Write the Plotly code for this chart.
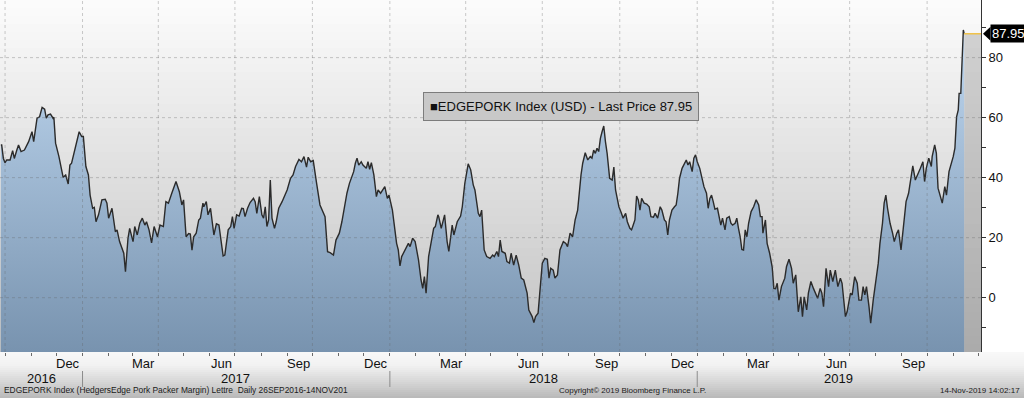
import plotly.graph_objects as go
import datetime as dt

# ---------------- data ----------------
points_2016 = [
    ("2016-09-26", 50.9), ("2016-09-27", 50.9), ("2016-09-29", 46.4), ("2016-10-01", 45.0),
    ("2016-10-03", 45.9), ("2016-10-07", 45.9), ("2016-10-10", 49.0), ("2016-10-12", 46.4),
    ("2016-10-15", 49.2), ("2016-10-17", 50.9), ("2016-10-20", 48.7), ("2016-10-24", 49.2),
    ("2016-10-29", 52.0), ("2016-11-02", 55.3), ("2016-11-04", 52.0), ("2016-11-07", 57.0),
    ("2016-11-08", 59.8), ("2016-11-11", 60.3), ("2016-11-14", 63.4), ("2016-11-17", 62.8),
    ("2016-11-19", 59.8), ("2016-11-21", 60.9), ("2016-11-24", 61.2), ("2016-11-27", 59.8),
    ("2016-11-28", 60.1), ("2016-11-30", 51.5), ("2016-12-04", 47.0), ("2016-12-09", 40.1),
    ("2016-12-12", 40.9), ("2016-12-15", 37.9), ("2016-12-17", 44.2), ("2016-12-19", 44.8),
    ("2016-12-23", 49.8), ("2016-12-28", 55.3), ("2016-12-31", 53.7),
]
points_2017 = [
    ("2017-01-02", 53.7), ("2017-01-05", 43.7), ("2017-01-08", 40.9), ("2017-01-10", 34.2),
    ("2017-01-13", 29.8), ("2017-01-15", 30.1), ("2017-01-17", 25.3), ("2017-01-20", 27.6),
    ("2017-01-24", 32.6), ("2017-01-28", 32.8), ("2017-01-30", 31.5), ("2017-02-01", 26.5),
    ("2017-02-05", 29.8), ("2017-02-09", 22.0), ("2017-02-11", 22.6), ("2017-02-14", 18.7),
    ("2017-02-18", 15.9), ("2017-02-19", 14.8), ("2017-02-21", 8.7), ("2017-02-24", 19.8),
    ("2017-02-26", 23.1), ("2017-03-02", 18.7), ("2017-03-04", 23.7), ("2017-03-07", 20.9),
    ("2017-03-10", 24.8), ("2017-03-13", 26.5), ("2017-03-16", 24.2), ("2017-03-18", 25.3),
    ("2017-03-21", 22.6), ("2017-03-24", 18.3), ("2017-03-27", 23.7), ("2017-03-31", 20.3),
    ("2017-04-03", 24.2), ("2017-04-07", 23.7), ("2017-04-10", 32.0), ("2017-04-13", 31.5),
    ("2017-04-17", 34.8), ("2017-04-22", 38.7), ("2017-04-26", 35.3), ("2017-04-29", 30.9),
    ("2017-05-01", 32.6), ("2017-05-04", 20.3), ("2017-05-07", 21.4), ("2017-05-09", 21.2),
    ("2017-05-11", 15.8), ("2017-05-13", 20.3), ("2017-05-16", 21.5), ("2017-05-19", 25.9),
    ("2017-05-21", 26.5), ("2017-05-24", 31.5), ("2017-05-25", 30.3), ("2017-05-28", 32.0),
    ("2017-05-30", 27.6), ("2017-06-02", 29.8), ("2017-06-06", 20.9), ("2017-06-09", 24.6),
    ("2017-06-12", 24.2), ("2017-06-15", 18.1), ("2017-06-17", 13.9), ("2017-06-19", 14.2),
    ("2017-06-23", 22.6), ("2017-06-26", 23.7), ("2017-06-28", 27.0), ("2017-06-30", 23.1),
    ("2017-07-03", 27.6), ("2017-07-06", 27.2), ("2017-07-09", 29.8), ("2017-07-11", 29.7),
    ("2017-07-13", 27.0), ("2017-07-16", 29.8), ("2017-07-19", 31.7), ("2017-07-23", 33.1),
    ("2017-07-25", 32.0), ("2017-07-27", 28.1), ("2017-07-30", 33.7), ("2017-08-02", 27.6),
    ("2017-08-04", 26.5), ("2017-08-06", 30.3), ("2017-08-08", 23.7), ("2017-08-10", 25.9),
    ("2017-08-12", 39.2), ("2017-08-14", 26.5), ("2017-08-17", 23.1), ("2017-08-19", 25.3),
    ("2017-08-22", 29.8), ("2017-08-26", 32.0), ("2017-08-30", 34.8), ("2017-09-01", 35.9),
    ("2017-09-05", 39.8), ("2017-09-08", 40.9), ("2017-09-11", 43.7), ("2017-09-13", 44.8),
    ("2017-09-15", 46.1), ("2017-09-18", 45.3), ("2017-09-21", 47.0), ("2017-09-24", 43.5),
    ("2017-09-26", 46.8), ("2017-09-29", 45.3), ("2017-10-02", 45.7), ("2017-10-06", 38.1),
    ("2017-10-10", 30.9), ("2017-10-16", 27.0), ("2017-10-19", 15.3), ("2017-10-22", 15.0),
    ("2017-10-26", 14.2), ("2017-10-29", 19.2), ("2017-11-02", 21.5), ("2017-11-05", 25.3),
    ("2017-11-08", 30.3), ("2017-11-11", 34.8), ("2017-11-14", 38.1), ("2017-11-17", 40.3),
    ("2017-11-19", 42.0), ("2017-11-21", 44.8), ("2017-11-23", 46.5), ("2017-11-25", 44.2),
    ("2017-11-28", 45.3), ("2017-11-30", 44.2), ("2017-12-04", 43.1), ("2017-12-06", 45.3),
    ("2017-12-08", 42.8), ("2017-12-10", 45.0), ("2017-12-13", 40.9), ("2017-12-16", 33.7),
    ("2017-12-18", 35.9), ("2017-12-21", 34.8), ("2017-12-24", 36.1), ("2017-12-26", 37.0),
    ("2017-12-29", 33.1), ("2017-12-31", 34.2),
]
points_2018 = [
    ("2018-01-04", 29.2), ("2018-01-07", 23.1), ("2018-01-09", 18.1), ("2018-01-11", 15.9),
    ("2018-01-13", 10.6), ("2018-01-15", 13.7), ("2018-01-19", 15.9), ("2018-01-23", 18.1),
    ("2018-01-25", 17.0), ("2018-01-28", 19.8), ("2018-01-31", 18.7), ("2018-02-04", 12.6),
    ("2018-02-07", 5.9), ("2018-02-09", 3.1), ("2018-02-11", 7.0), ("2018-02-13", 1.5),
    ("2018-02-16", 13.7), ("2018-02-20", 19.2), ("2018-02-22", 23.1), ("2018-02-24", 23.7),
    ("2018-02-27", 27.6), ("2018-02-28", 27.0), ("2018-03-03", 23.1), ("2018-03-07", 27.6),
    ("2018-03-10", 18.7), ("2018-03-12", 15.4), ("2018-03-16", 24.2), ("2018-03-18", 20.9),
    ("2018-03-22", 25.3), ("2018-03-26", 27.2), ("2018-03-28", 30.3), ("2018-03-31", 38.1),
    ("2018-04-04", 44.6), ("2018-04-07", 42.6), ("2018-04-10", 37.6), ("2018-04-12", 35.9),
    ("2018-04-16", 28.1), ("2018-04-18", 27.0), ("2018-04-20", 29.2), ("2018-04-23", 15.9),
    ("2018-04-26", 13.7), ("2018-04-30", 13.1), ("2018-05-03", 14.2), ("2018-05-05", 13.7),
    ("2018-05-08", 15.4), ("2018-05-10", 13.7), ("2018-05-12", 19.2), ("2018-05-14", 15.4),
    ("2018-05-18", 14.8), ("2018-05-20", 12.0), ("2018-05-23", 11.5), ("2018-05-25", 14.8),
    ("2018-05-28", 10.9), ("2018-05-31", 14.2), ("2018-06-03", 10.9), ("2018-06-06", 6.5),
    ("2018-06-09", 5.9), ("2018-06-13", 1.5), ("2018-06-15", -4.1), ("2018-06-19", -6.3),
    ("2018-06-21", -8.3), ("2018-06-23", -6.3), ("2018-06-26", -5.2), ("2018-06-28", 1.5),
    ("2018-07-01", 11.5), ("2018-07-04", 13.1), ("2018-07-07", 12.8), ("2018-07-09", 6.5),
    ("2018-07-11", 9.8), ("2018-07-14", 9.2), ("2018-07-16", 6.5), ("2018-07-19", 7.6),
    ("2018-07-22", 15.9), ("2018-07-26", 18.7), ("2018-07-29", 18.1), ("2018-07-31", 17.0),
    ("2018-08-03", 21.5), ("2018-08-06", 20.3), ("2018-08-09", 25.9), ("2018-08-12", 29.2),
    ("2018-08-14", 35.9), ("2018-08-16", 40.9), ("2018-08-18", 44.8), ("2018-08-21", 48.3),
    ("2018-08-24", 45.9), ("2018-08-27", 47.0), ("2018-08-29", 46.5), ("2018-08-31", 49.2),
    ("2018-09-02", 48.1), ("2018-09-04", 49.8), ("2018-09-06", 48.7), ("2018-09-08", 53.1),
    ("2018-09-10", 55.3), ("2018-09-12", 57.2), ("2018-09-14", 52.0), ("2018-09-16", 48.1),
    ("2018-09-19", 39.8), ("2018-09-22", 39.2), ("2018-09-24", 43.5), ("2018-09-26", 35.9),
    ("2018-09-28", 33.1), ("2018-09-30", 30.3), ("2018-10-03", 28.1), ("2018-10-05", 26.5),
    ("2018-10-08", 28.1), ("2018-10-10", 25.3), ("2018-10-13", 23.1), ("2018-10-15", 22.6),
    ("2018-10-17", 24.2), ("2018-10-19", 25.9), ("2018-10-21", 33.9), ("2018-10-23", 32.6),
    ("2018-10-25", 29.2), ("2018-10-27", 33.1), ("2018-10-30", 31.5), ("2018-11-02", 31.2),
    ("2018-11-05", 30.3), ("2018-11-07", 27.0), ("2018-11-10", 26.8), ("2018-11-12", 28.1),
    ("2018-11-15", 26.5), ("2018-11-18", 30.3), ("2018-11-20", 29.2), ("2018-11-23", 25.9),
    ("2018-11-25", 25.3), ("2018-11-27", 20.9), ("2018-11-29", 25.9), ("2018-12-02", 29.2),
    ("2018-12-05", 30.3), ("2018-12-07", 30.9), ("2018-12-09", 34.8), ("2018-12-11", 39.8),
    ("2018-12-14", 43.1), ("2018-12-17", 44.8), ("2018-12-19", 45.9), ("2018-12-21", 44.2),
    ("2018-12-23", 45.3), ("2018-12-26", 42.0), ("2018-12-28", 46.5), ("2018-12-30", 47.6),
]
points_2019 = [
    ("2019-01-01", 45.3), ("2019-01-04", 43.1), ("2019-01-07", 39.8), ("2019-01-09", 37.0),
    ("2019-01-12", 34.8), ("2019-01-14", 29.8), ("2019-01-16", 33.1), ("2019-01-18", 34.2),
    ("2019-01-20", 32.0), ("2019-01-22", 29.5), ("2019-01-25", 29.8), ("2019-01-27", 26.5),
    ("2019-01-29", 24.2), ("2019-01-31", 26.5), ("2019-02-03", 22.6), ("2019-02-05", 26.5),
    ("2019-02-08", 27.0), ("2019-02-10", 24.8), ("2019-02-12", 24.2), ("2019-02-15", 24.8),
    ("2019-02-17", 26.5), ("2019-02-19", 23.1), ("2019-02-21", 20.3), ("2019-02-23", 16.1),
    ("2019-02-25", 15.9), ("2019-02-27", 22.6), ("2019-03-01", 20.3), ("2019-03-03", 24.8),
    ("2019-03-06", 28.7), ("2019-03-09", 30.3), ("2019-03-12", 32.6), ("2019-03-15", 30.9),
    ("2019-03-17", 27.0), ("2019-03-19", 27.0), ("2019-03-20", 21.5), ("2019-03-23", 25.9),
    ("2019-03-25", 18.1), ("2019-03-28", 14.8), ("2019-03-31", 10.3), ("2019-04-02", 3.1),
    ("2019-04-04", 3.0), ("2019-04-06", 4.8), ("2019-04-08", -0.8), ("2019-04-11", 3.7),
    ("2019-04-15", 6.5), ("2019-04-17", 10.3), ("2019-04-20", 12.8), ("2019-04-23", 9.8),
    ("2019-04-25", 4.8), ("2019-04-28", 7.6), ("2019-05-01", -4.7), ("2019-05-04", 0.3),
    ("2019-05-06", -6.3), ("2019-05-08", 0.3), ("2019-05-11", -4.1), ("2019-05-13", 1.5),
    ("2019-05-16", 5.4), ("2019-05-19", 3.1), ("2019-05-22", 0.9), ("2019-05-24", -0.2),
    ("2019-05-27", 3.1), ("2019-05-29", 1.5), ("2019-05-31", -3.0), ("2019-06-03", 9.8),
    ("2019-06-06", 3.7), ("2019-06-08", 9.2), ("2019-06-11", 5.4), ("2019-06-14", 9.2),
    ("2019-06-17", 3.7), ("2019-06-20", 6.5), ("2019-06-22", 4.8), ("2019-06-26", -6.3),
    ("2019-06-28", -4.7), ("2019-07-02", 1.5), ("2019-07-04", 0.9), ("2019-07-07", 7.0),
    ("2019-07-10", 4.8), ("2019-07-12", -0.8), ("2019-07-15", -0.8), ("2019-07-17", 3.7),
    ("2019-07-19", 0.9), ("2019-07-21", 3.7), ("2019-07-24", -3.0), ("2019-07-26", -8.5),
    ("2019-07-29", -0.8), ("2019-08-01", 4.8), ("2019-08-04", 11.5), ("2019-08-06", 18.1),
    ("2019-08-09", 24.8), ("2019-08-11", 31.5), ("2019-08-13", 34.2), ("2019-08-15", 29.8),
    ("2019-08-18", 24.8), ("2019-08-21", 21.5), ("2019-08-23", 18.7), ("2019-08-26", 21.5),
    ("2019-08-28", 22.6), ("2019-08-31", 15.9), ("2019-09-03", 23.7), ("2019-09-06", 32.0),
    ("2019-09-09", 34.8), ("2019-09-11", 38.1), ("2019-09-14", 43.9), ("2019-09-17", 39.2),
    ("2019-09-20", 40.9), ("2019-09-23", 43.1), ("2019-09-26", 45.3), ("2019-09-28", 38.7),
    ("2019-09-30", 43.1), ("2019-10-03", 46.5), ("2019-10-06", 43.7), ("2019-10-07", 47.0),
    ("2019-10-10", 50.9), ("2019-10-12", 48.1), ("2019-10-14", 36.5), ("2019-10-16", 34.8),
    ("2019-10-19", 31.5), ("2019-10-22", 37.0), ("2019-10-24", 34.2), ("2019-10-27", 42.0),
    ("2019-10-30", 44.8), ("2019-11-01", 47.0), ("2019-11-03", 49.8), ("2019-11-05", 60.3),
    ("2019-11-07", 62.6), ("2019-11-08", 68.1), ("2019-11-10", 68.1), ("2019-11-12", 81.5),
    ("2019-11-13", 89.2), ("2019-11-14", 87.95),
]
last_price = 87.95

month_label_dates = ["2016-12-15", "2017-03-15", "2017-06-15", "2017-09-15",
                     "2017-12-15", "2018-03-15", "2018-06-15", "2018-09-15",
                     "2018-12-15", "2019-03-15", "2019-06-15", "2019-09-15"]
month_label_text = ["Dec", "Mar", "Jun", "Sep"] * 3
year_labels = ["2016", "2017", "2018", "2019"]
year_starts = ["2017-01-01", "2018-01-01", "2019-01-01"]
grid_dates = ["2016-10-01", "2017-01-01", "2017-04-01", "2017-07-01", "2017-10-01",
              "2018-01-01", "2018-04-01", "2018-07-01", "2018-10-01",
              "2019-01-01", "2019-04-01", "2019-07-01", "2019-10-01"]
y_tick_vals = [0, 20, 40, 60, 80]

legend_text = "\u25A0EDGEPORK Index (USD) - Last Price %.2f" % last_price
footer_left = "EDGEPORK Index (HedgersEdge Pork Packer Margin) Lettre  Daily 26SEP2016-14NOV201"
footer_mid = "Copyright\u00a9 2019 Bloomberg Finance L.P."
footer_right = "14-Nov-2019 14:02:17"

# ---------------- layout constants ----------------
x_start, x_end = "2016-09-25", "2019-12-04"
y_min, y_max = -18.1, 99.2
W, H = 1024, 398
PW, PH = 981, 352          # plot area in pixels
FONT = "Liberation Sans, Arial, sans-serif"

all_points = points_2016 + points_2017 + points_2018 + points_2019
dates = [d for d, _ in all_points]
values = [v for _, v in all_points]


def lerp(c1, c2, t):
    return "#%02x%02x%02x" % tuple(round(a + (b - a) * t) for a, b in zip(c1, c2))


def px_below(p):  # pixels below plot bottom -> paper y
    return -p / PH


shapes = []
# plot background gradient
n_bg = 44
top_c, bot_c = (252, 252, 252), (194, 194, 194)
for i in range(n_bg):
    y1 = 1 - i / n_bg
    y0 = 1 - (i + 1) / n_bg - 0.002
    shapes.append(dict(type="rect", xref="paper", yref="paper", x0=0, x1=1, y0=max(y0, 0), y1=y1,
                       fillcolor=lerp(top_c, bot_c, (i + 0.5) / n_bg), line=dict(width=0), layer="below"))

# bottom axis band gradient
stops = [(0, (249, 249, 249)), (14, (241, 241, 241)), (30, (214, 214, 214)), (46, (184, 184, 184))]
for p in range(0, 46, 2):
    col = lerp(stops[-2][1], stops[-1][1], 1)
    for (a, ca), (b, cb) in zip(stops[:-1], stops[1:]):
        if a <= p + 1 <= b:
            col = lerp(ca, cb, (p + 1 - a) / (b - a))
            break
    shapes.append(dict(type="rect", xref="paper", yref="paper", x0=0, x1=W / PW,
                       y0=px_below(p + 2.3), y1=px_below(p), fillcolor=col,
                       line=dict(width=0), layer="below"))

# gray region after last price
shapes.append(dict(type="rect", xref="x", yref="y", x0=dates[-1], x1=x_end, y0=y_min, y1=last_price,
                   fillcolor="rgba(110,110,110,0.28)", line=dict(width=0), layer="below"))

# gridlines (dotted)
grid_col = "rgba(95,95,95,0.32)"
for gd in grid_dates:
    shapes.append(dict(type="line", xref="x", yref="paper", x0=gd, x1=gd, y0=0, y1=1,
                       line=dict(color=grid_col, width=1, dash="dot"), layer="above"))
for yv in y_tick_vals:
    shapes.append(dict(type="line", xref="paper", yref="y", x0=0, x1=1, y0=yv, y1=yv,
                       line=dict(color=grid_col, width=1, dash="dot"), layer="above"))

# last price guide line
shapes.append(dict(type="line", xref="x", yref="y", x0=dates[-1], x1=x_end, y0=last_price, y1=last_price,
                   line=dict(color="#f0c24a", width=1.5), layer="above"))

# price tag pointer
u_per_px = (y_max - y_min) / PH
shapes.append(dict(type="path", xref="paper", yref="y",
                   path="M %f,%f L %f,%f L %f,%f Z" % (1 + 2 / PW, last_price,
                                                       1 + 9.5 / PW, last_price + 7 * u_per_px,
                                                       1 + 9.5 / PW, last_price - 7 * u_per_px),
                   fillcolor="black", line=dict(width=0), layer="above"))

# year separators
for ys in year_starts:
    shapes.append(dict(type="line", xref="x", yref="paper", x0=ys, x1=ys,
                       y0=px_below(35), y1=px_below(19), line=dict(color="#8c8c8c", width=1)))

annotations = []
for d, t in zip(month_label_dates, month_label_text):
    annotations.append(dict(x=d, y=0, xref="x", yref="paper", text=t, showarrow=False,
                            yanchor="middle", yshift=-11, font=dict(family=FONT, size=13, color="#111")))

# year labels centred on the visible part of each year
xs = dt.date.fromisoformat(x_start)
xe = dt.date.fromisoformat(x_end)
for yl in year_labels:
    a = max(dt.date(int(yl), 1, 1), xs)
    b = min(dt.date(int(yl) + 1, 1, 1), xe)
    mid = a + (b - a) / 2
    annotations.append(dict(x=mid.isoformat(), y=0, xref="x", yref="paper", text=yl, showarrow=False,
                            yanchor="middle", yshift=-26, font=dict(family=FONT, size=13, color="#111")))

annotations.append(dict(x=2 / PW, y=px_below(38), xref="paper", yref="paper", text=footer_left,
                        showarrow=False, xanchor="left", yanchor="middle",
                        font=dict(family=FONT, size=8.4, color="#1a1a1a")))
annotations.append(dict(x=557 / PW, y=px_below(38), xref="paper", yref="paper", text=footer_mid,
                        showarrow=False, xanchor="left", yanchor="middle",
                        font=dict(family=FONT, size=8, color="#1a1a1a")))
annotations.append(dict(x=1022 / PW, y=px_below(38), xref="paper", yref="paper", text=footer_right,
                        showarrow=False, xanchor="right", yanchor="middle",
                        font=dict(family=FONT, size=8, color="#1a1a1a")))

# legend box
annotations.append(dict(x=561 / PW, y=1 - 106 / PH, xref="paper", yref="paper", text=legend_text,
                        showarrow=False, xanchor="center", yanchor="middle",
                        bgcolor="#c8c8c8", bordercolor="#7c7c7c", borderwidth=1, borderpad=6,
                        font=dict(family=FONT, size=13, color="#111")))

# last price tag
annotations.append(dict(x=1, y=last_price, xref="paper", yref="y", text="%.2f" % last_price,
                        showarrow=False, xanchor="left", yanchor="middle", xshift=9,
                        bgcolor="black", borderpad=1,
                        font=dict(family=FONT, size=13, color="white")))

fig = go.Figure()
fig.add_trace(go.Scatter(x=dates, y=[y_min] * len(dates), mode="lines", line=dict(width=0),
                         hoverinfo="skip", showlegend=False))
fig.add_trace(go.Scatter(
    x=dates, y=values, mode="lines", name="EDGEPORK Index",
    line=dict(color="#2b2b2b", width=1.4),
    fill="tonexty",
    fillgradient=dict(type="vertical", colorscale=[[0, "#7893af"], [1, "#c6def6"]],
                      start=y_min, stop=y_max),
    showlegend=False,
))

fig.update_layout(
    width=W, height=H,
    margin=dict(l=0, r=W - PW, t=0, b=H - PH, pad=0),
    paper_bgcolor="white", plot_bgcolor="#e0e0e0",
    shapes=shapes, annotations=annotations,
    showlegend=False,
    xaxis=dict(type="date", range=[x_start, x_end], showgrid=False, zeroline=False,
               showticklabels=False, ticks="outside", ticklen=3, tickcolor="#6a6a6a",
               dtick="M1", tick0="2016-10-01", showline=False, fixedrange=True),
    yaxis=dict(range=[y_min, y_max], side="right", showgrid=False, zeroline=False,
               tickvals=y_tick_vals, ticks="outside", ticklen=4, tickcolor="#333",
               minor=dict(dtick=10, tick0=0, ticks="outside", ticklen=4, tickcolor="#333"),
               showline=True, linecolor="#333", linewidth=1,
               tickfont=dict(family=FONT, size=13, color="#111"), fixedrange=True),
)

fig.write_html("out.html")
